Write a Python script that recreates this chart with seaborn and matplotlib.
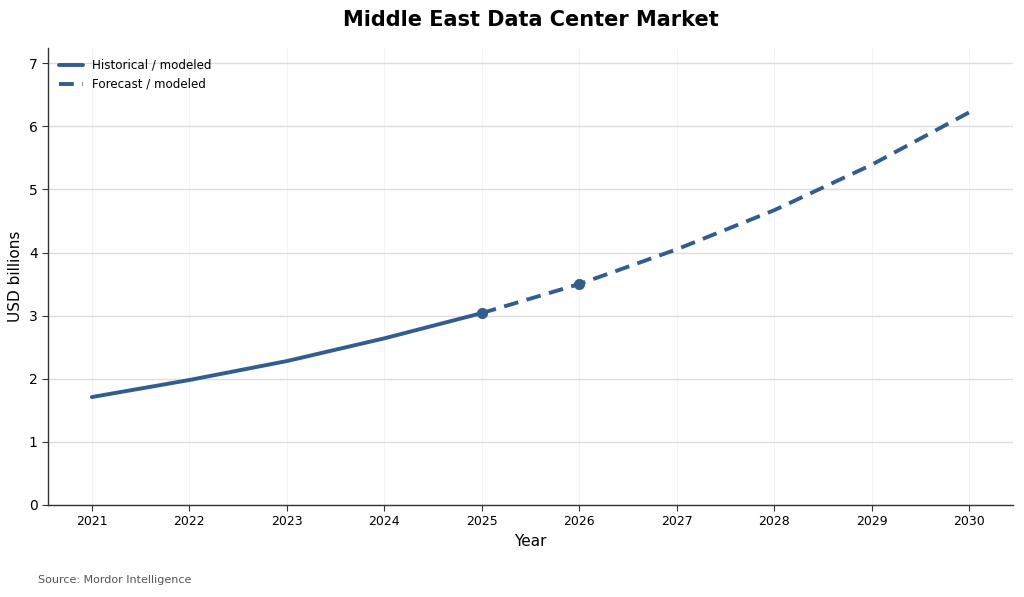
import matplotlib
matplotlib.use("Agg")
import matplotlib.pyplot as plt
import seaborn as sns
import pandas as pd

hist_years = [2021, 2022, 2023, 2024, 2025]
hist_values = [1.71, 1.98, 2.28, 2.64, 3.04]
fc_years = [2025, 2026, 2027, 2028, 2029, 2030]
fc_values = [3.04, 3.50, 4.05, 4.67, 5.39, 6.22]
marker_years = [2025, 2026]
marker_values = [3.04, 3.50]
yticks = [0, 1, 2, 3, 4, 5, 6, 7]

sns.set_style("white")
plt.rcParams['font.family'] = ['DejaVu Sans']
plt.rcParams['text.color'] = 'black'
plt.rcParams['axes.labelcolor'] = 'black'
plt.rcParams['xtick.color'] = 'black'
plt.rcParams['ytick.color'] = 'black'
color = "#325d8e"

fig = plt.figure(figsize=(10.24, 5.97), dpi=100)
ax = fig.add_axes([48/1024, 1 - 505/597, (1013-48)/1024, (505-48)/597])

df_h = pd.DataFrame({"Year": hist_years, "USD": hist_values})
df_f = pd.DataFrame({"Year": fc_years, "USD": fc_values})
df_m = pd.DataFrame({"Year": marker_years, "USD": marker_values})

sns.lineplot(data=df_h, x="Year", y="USD", ax=ax, color=color, lw=2.8, label="Historical / modeled")
sns.lineplot(data=df_f, x="Year", y="USD", ax=ax, color=color, lw=2.8, linestyle=(0, (3.8, 2.2)), label="Forecast / modeled")
sns.scatterplot(data=df_m, x="Year", y="USD", ax=ax, color=color, s=55, edgecolor=color, zorder=5, legend=False)

ax.set_xlim(2020.55, 2030.45)
ax.set_ylim(0, 7.24)
ax.set_xticks(list(range(2021, 2031)))
ax.set_xticklabels([str(y) for y in range(2021, 2031)], fontsize=9)
ax.set_yticks(yticks)
ax.set_yticklabels([str(t) for t in yticks], fontsize=10)
ax.tick_params(axis='both', which='both', length=4, width=0.8, color="#333333", bottom=True, left=True)
ax.grid(axis='y', color="#dddddd", lw=1)
ax.grid(axis='x', color="#f3f3f3", lw=0.8)
ax.set_axisbelow(True)
for s in ["top", "right"]:
    ax.spines[s].set_visible(False)
for s in ["left", "bottom"]:
    ax.spines[s].set_color("#333333")
    ax.spines[s].set_linewidth(1.0)

ax.set_xlabel("Year", fontsize=11)
ax.set_ylabel("USD billions", fontsize=11)
ax.legend(loc="upper left", frameon=False, fontsize=8.6, handlelength=2.0, borderaxespad=0.5)

fig.text(0.518, 1 - 20/597, "Middle East Data Center Market", ha="center", va="center", fontsize=15, fontweight="bold", color="black")
fig.text(38/1024, 1 - 580/597, "Source: Mordor Intelligence", ha="left", va="center", fontsize=8, color="#555555")

fig.savefig("out.png", dpi=100)
